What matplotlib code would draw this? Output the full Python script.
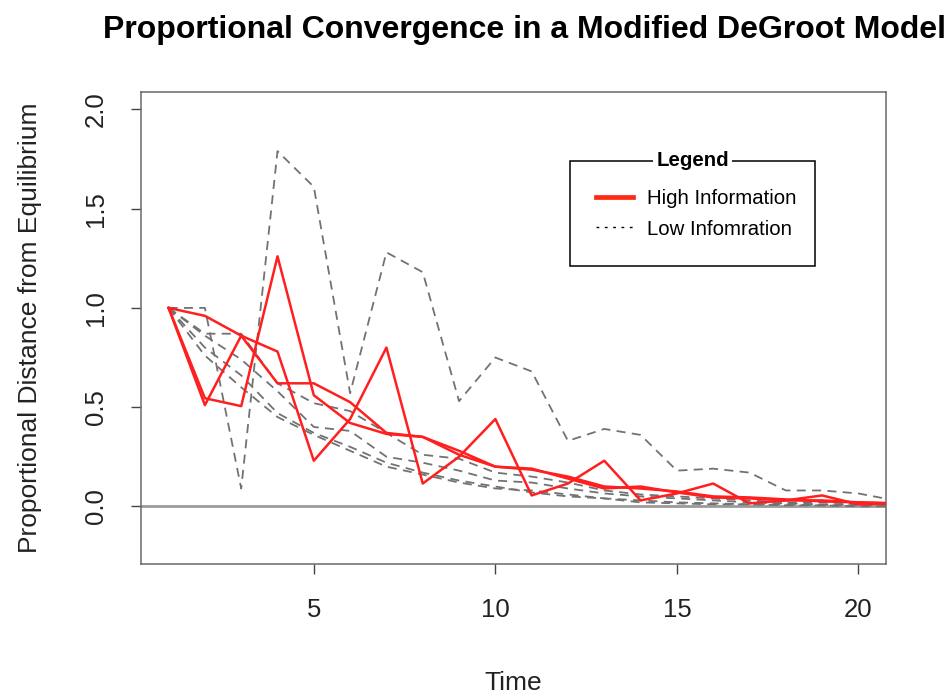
import matplotlib
matplotlib.use("Agg")
import matplotlib.pyplot as plt
from matplotlib.lines import Line2D
from matplotlib.patches import Rectangle

plt.rcParams['font.family'] = ['Liberation Sans', 'DejaVu Sans']

# ---- data ----
time = list(range(1, 22))

high_info_1 = [1.00, 0.96, 0.86, 0.78, 0.23, 0.44, 0.80, 0.115, 0.25, 0.44, 0.055,
               0.115, 0.23, 0.03, 0.065, 0.115, 0.015, 0.03, 0.055, 0.01, 0.015]
high_info_2 = [1.00, 0.51, 0.86, 0.62, 0.62, 0.525, 0.37, 0.35, 0.28, 0.20, 0.185,
               0.15, 0.10, 0.09, 0.075, 0.05, 0.045, 0.035, 0.025, 0.02, 0.015]
high_info_3 = [1.00, 0.545, 0.505, 1.26, 0.56, 0.42, 0.365, 0.35, 0.26, 0.20, 0.19,
               0.14, 0.09, 0.10, 0.07, 0.045, 0.04, 0.03, 0.03, 0.02, 0.015]

low_info_1 = [1.00, 1.00, 0.09, 1.79, 1.61, 0.57, 1.28, 1.18, 0.53, 0.75, 0.68,
              0.33, 0.39, 0.36, 0.18, 0.19, 0.17, 0.08, 0.08, 0.065, 0.03]
low_info_2 = [1.00, 0.87, 0.87, 0.62, 0.52, 0.48, 0.37, 0.26, 0.24, 0.17, 0.15,
              0.12, 0.08, 0.06, 0.05, 0.04, 0.03, 0.02, 0.02, 0.015, 0.01]
low_info_3 = [1.00, 0.86, 0.74, 0.58, 0.40, 0.38, 0.25, 0.22, 0.18, 0.13, 0.12,
              0.09, 0.065, 0.05, 0.04, 0.03, 0.02, 0.015, 0.01, 0.01, 0.01]
low_info_4 = [1.00, 0.80, 0.66, 0.47, 0.37, 0.30, 0.22, 0.17, 0.13, 0.10, 0.07,
              0.05, 0.04, 0.03, 0.02, 0.015, 0.01, 0.01, 0.005, 0.005, 0.005]
low_info_5 = [1.00, 0.76, 0.60, 0.45, 0.36, 0.28, 0.20, 0.16, 0.12, 0.09, 0.08,
              0.06, 0.04, 0.02, 0.015, 0.01, 0.01, 0.005, 0.005, 0.0, 0.0]

high_series = [high_info_1, high_info_2, high_info_3]
low_series = [low_info_1, low_info_2, low_info_3, low_info_4, low_info_5]

x_ticks = [5, 10, 15, 20]
y_ticks = [0.0, 0.5, 1.0, 1.5, 2.0]
y_tick_labels = ["0.0", "0.5", "1.0", "1.5", "2.0"]

title = "Proportional Convergence in a Modified DeGroot Model"
x_label = "Time"
y_label = "Proportional Distance from Equilibrium"
legend_title = "Legend"
legend_labels = ["High Information", "Low Infomration"]

# ---- figure ----
W, H = 953, 696
fig = plt.figure(figsize=(W / 100, H / 100), dpi=100)
left, right, top, bottom = 141, 886, 92, 563.5
ax = fig.add_axes([left / W, 1 - bottom / H, (right - left) / W, (bottom - top) / H])

RED = '#ff1f1f'
GRAY = '#727272'

ax.axhline(0, color='#9a9a9a', lw=2.0, zorder=1)

for s in low_series:
    ax.plot(time, s, color=GRAY, lw=1.3, linestyle=(0, (5, 3.5)), zorder=2)
for s in high_series:
    ax.plot(time, s, color=RED, lw=1.8, zorder=3)

ax.set_xlim(0.24, 20.76)
ax.set_ylim(-0.288, 2.088)

ax.set_xticks(x_ticks)
ax.set_xticklabels([str(v) for v in x_ticks])
ax.set_yticks(y_ticks)
ax.set_yticklabels(y_tick_labels)

for sp in ax.spines.values():
    sp.set_color('#6a6a6a')
    sp.set_linewidth(1.1)

ax.tick_params(axis='both', direction='out', length=7, width=1.0, color='#444444',
               labelsize=18.5, labelcolor='#222222')
ax.tick_params(axis='x', pad=18)
ax.tick_params(axis='y', pad=17)
for lab in ax.get_yticklabels():
    lab.set_rotation(90)
    lab.set_va('center')

fig.text(525 / W, 1 - 30 / H, title, ha='center', va='center',
         fontsize=23, fontweight='bold', color='black')
fig.text(513.5 / W, 1 - 683 / H, x_label, ha='center', va='center',
         fontsize=19, color='#222222')
fig.text(30 / W, 1 - 328 / H, y_label, ha='center', va='center', rotation=90,
         fontsize=19, color='#222222')

# ---- legend ----
handles = [Line2D([], [], color='#ff2a12', lw=3.4),
           Line2D([], [], color='black', lw=1.0, linestyle=(0, (2, 4)))]
leg = ax.legend(handles, legend_labels, loc='center left',
                bbox_to_anchor=(596 / W, 1 - 214 / H), bbox_transform=fig.transFigure,
                frameon=False, fontsize=14.7, handlelength=1.8, handletextpad=0.7,
                labelspacing=0.55, borderpad=0, borderaxespad=0)
fig.add_artist(Rectangle((570 / W, 1 - 266 / H), 245 / W, 105.5 / H,
                         transform=fig.transFigure, fill=False, ec='black', lw=1.1, zorder=5))
fig.text(692.5 / W, 1 - 161 / H, legend_title, ha='center', va='center',
         fontsize=14.7, fontweight='bold', zorder=6,
         bbox=dict(facecolor='white', edgecolor='none', pad=2.5))

fig.savefig('out.png', dpi=100)
